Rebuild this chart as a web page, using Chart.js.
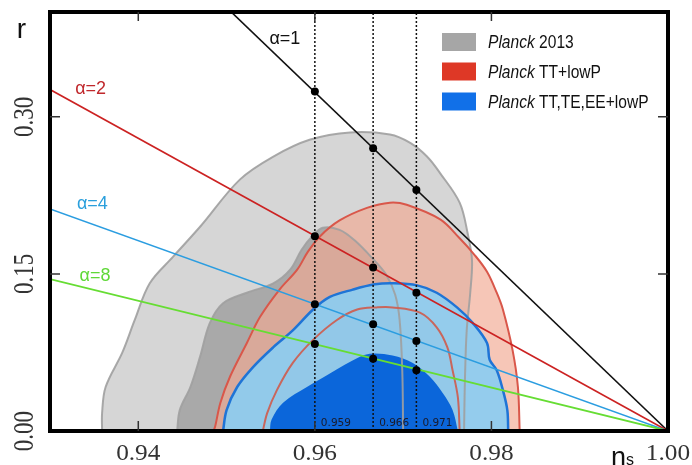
<!DOCTYPE html>
<html>
<head>
<meta charset="utf-8">
<script src="https://cdn.jsdelivr.net/npm/chart.js@4.4.1/dist/chart.umd.min.js"></script>
<style>
  html, body { margin: 0; padding: 0; background: #fff; }
  #wrap { width: 692px; height: 465px; }
</style>
</head>
<body>
<div id="wrap"><canvas id="chart" width="692" height="465"></canvas></div>
<script>
// axis ticks
const xTicks = [0.94, 0.96, 0.98, 1.00];
const yTicks = [0.00, 0.15, 0.30];

// Planck 2013 (grey) 95% / 68%
const gray95Ns = [0.9359, 0.9359, 0.9363, 0.9382, 0.9396, 0.9413, 0.9439, 0.9470, 0.9515, 0.9553, 0.9594, 0.9640, 0.9685, 0.9708, 0.9727, 0.9742, 0.9764, 0.9773, 0.9778, 0.9776, 0.9772, 0.9770, 0.9769];
const gray95R  = [0, 0.017, 0.042, 0.075, 0.106, 0.141, 0.166, 0.195, 0.240, 0.262, 0.278, 0.285, 0.283, 0.275, 0.262, 0.246, 0.218, 0.189, 0.163, 0.132, 0.096, 0.049, 0];
const gray68Ns = [0.9444, 0.9447, 0.9459, 0.9470, 0.9481, 0.9496, 0.9523, 0.9553, 0.9572, 0.9585, 0.9597, 0.9609, 0.9628, 0.9645, 0.9665, 0.9681, 0.9691, 0.9696, 0.9699, 0.9700];
const gray68R  = [0, 0.020, 0.042, 0.071, 0.103, 0.122, 0.132, 0.141, 0.154, 0.173, 0.186, 0.194, 0.192, 0.182, 0.165, 0.149, 0.130, 0.106, 0.058, 0];

// Planck TT+lowP (red)
const red95Ns = [0.9485, 0.9487, 0.9493, 0.9504, 0.9523, 0.9538, 0.9560, 0.9580, 0.9592, 0.9606, 0.9628, 0.9659, 0.9685, 0.9704, 0.9742, 0.9764, 0.9781, 0.9795, 0.9806, 0.9813, 0.9824, 0.9830, 0.9832];
const red95R  = [0, 0.004, 0.027, 0.052, 0.084, 0.109, 0.135, 0.154, 0.171, 0.186, 0.201, 0.213, 0.218, 0.216, 0.202, 0.184, 0.168, 0.152, 0.132, 0.116, 0.077, 0.042, 0];
const red68Ns = [0.9541, 0.9546, 0.9557, 0.9575, 0.9598, 0.9625, 0.9648, 0.9670, 0.9688, 0.9719, 0.9738, 0.9750, 0.9756, 0.9762, 0.9764];
const red68R  = [0, 0.017, 0.039, 0.065, 0.087, 0.106, 0.116, 0.118, 0.118, 0.113, 0.099, 0.080, 0.058, 0.032, 0];

// Planck TT,TE,EE+lowP (blue)
const blue95Ns = [0.9496, 0.9500, 0.9512, 0.9530, 0.9553, 0.9575, 0.9598, 0.9617, 0.9643, 0.9668, 0.9688, 0.9716, 0.9738, 0.9761, 0.9779, 0.9795, 0.9798, 0.9806, 0.9813, 0.9818, 0.9819];
const blue95R  = [0, 0.020, 0.042, 0.061, 0.080, 0.096, 0.116, 0.128, 0.135, 0.140, 0.141, 0.139, 0.132, 0.118, 0.103, 0.084, 0.068, 0.058, 0.039, 0.020, 0];
const blue68Ns = [0.9549, 0.9551, 0.9564, 0.9591, 0.9617, 0.9651, 0.9666, 0.9688, 0.9711, 0.9730, 0.9745, 0.9756, 0.9762];
const blue68R  = [0, 0.011, 0.027, 0.042, 0.055, 0.071, 0.074, 0.072, 0.065, 0.052, 0.036, 0.020, 0];

// alpha lines, from left edge to ns = 1
const alphaNs = [0.93, 1.00];
const alpha1R = [0.566, 0];
const alpha2R = [0.326, 0];
const alpha4R = [0.212, 0];
const alpha8R = [0.145, 0];

// marked ns lines (where the picture puts them) and their printed labels
const markNs = [0.9600, 0.9666, 0.9715];
const markLabels = ['0.959', '0.966', '0.971'];
const dots1 = [0.324, 0.270, 0.230];
const dots2 = [0.186, 0.156, 0.132];
const dots4 = [0.121, 0.102, 0.086];
const dots8 = [0.083, 0.069, 0.058];

const pts = (ns, r) => ns.map((v, i) => ({x: v, y: r[i]}));

function area(ns, r, color, order) {
  return {data: pts(ns, r), backgroundColor: color, borderWidth: 0, fill: 'shape',
    tension: 0.35, pointRadius: 0, order: order, clip: 0};
}
function outline(ns, r, color, w, order) {
  return {data: pts(ns, r), borderColor: color, borderWidth: w, fill: false,
    tension: 0.35, pointRadius: 0, order: order, clip: 0};
}
function straight(ns, r, color, w, order, dash) {
  return {data: pts(ns, r), borderColor: color, borderWidth: w, fill: false,
    tension: 0, pointRadius: 0, order: order, borderDash: dash || [], clip: 0};
}
function dots(r, order) {
  return {data: pts(markNs, r), showLine: false, pointRadius: 4,
    pointBackgroundColor: '#000', pointBorderWidth: 0, order: order};
}

const datasets = [
  area(gray95Ns, gray95R, '#d6d6d6', 100),
  area(gray68Ns, gray68R, '#a9a9a9', 99),
  area(red95Ns, red95R, 'rgba(242,168,145,0.66)', 98),
  area(red68Ns, red68R, 'rgba(225,120,100,0.30)', 97),
  area(blue95Ns, blue95R, 'rgba(135,206,245,0.88)', 96),
  area(blue68Ns, blue68R, '#0b66da', 95),
  outline(gray95Ns, gray95R, 'rgba(160,160,160,0.9)', 2, 90),
  outline(gray68Ns, gray68R, 'rgba(160,160,160,0.9)', 2, 89),
  outline(red95Ns, red95R, '#d9574a', 2, 88),
  outline(red68Ns, red68R, '#c9665c', 2, 87),
  outline(blue95Ns, blue95R, '#1f74d6', 2.5, 86),
  straight(alphaNs, alpha1R, '#111111', 1.6, 80),
  straight(alphaNs, alpha2R, '#cc2222', 1.6, 79),
  straight(alphaNs, alpha4R, '#2b9de0', 1.6, 78),
  straight(alphaNs, alpha8R, '#66dd33', 1.8, 77)
];
markNs.forEach((v, i) => datasets.push(straight([v, v], [0, 0.4], '#111', 1.5, 70 - i, [2, 2])));
[dots1, dots2, dots4, dots8].forEach((d, i) => datasets.push(dots(d, 60 - i)));

const alphaLabels = [
  {text: 'α=1', ns: 0.9566, r: 0.374, color: '#111111'},
  {text: 'α=2', ns: 0.9346, r: 0.3265, color: '#c0282c'},
  {text: 'α=4', ns: 0.9348, r: 0.2167, color: '#2a9fdc'},
  {text: 'α=8', ns: 0.9351, r: 0.148, color: '#5fd838'}
];
const legendItems = [
  {color: '#a6a6a6', rest: ' 2013'},
  {color: '#de3826', rest: ' TT+lowP'},
  {color: '#1170e8', rest: ' TT,TE,EE+lowP'}
];

const decor = {
  id: 'decor',
  afterDraw(chart) {
    const {ctx, chartArea: a, scales: {x, y}} = chart;
    ctx.save();

    // alpha labels
    ctx.font = '18px "Liberation Sans", Arial, sans-serif';
    ctx.textAlign = 'center';
    ctx.textBaseline = 'middle';
    alphaLabels.forEach(l => {
      ctx.fillStyle = l.color;
      ctx.fillText(l.text, x.getPixelForValue(l.ns), y.getPixelForValue(l.r));
    });

    // small ns labels next to the dotted lines
    ctx.font = '10.5px "DejaVu Sans", sans-serif';
    ctx.textAlign = 'left';
    ctx.textBaseline = 'alphabetic';
    ctx.fillStyle = '#1a1a2a';
    markNs.forEach((v, i) => ctx.fillText(markLabels[i], x.getPixelForValue(v) + 6, a.bottom - 5));

    // frame
    ctx.strokeStyle = '#000';
    ctx.lineWidth = 4;
    ctx.strokeRect(a.left, a.top, a.right - a.left, a.bottom - a.top);

    // inward ticks
    ctx.strokeStyle = '#333';
    ctx.lineWidth = 1.5;
    ctx.beginPath();
    xTicks.slice(0, -1).forEach(v => {
      const px = x.getPixelForValue(v);
      ctx.moveTo(px, a.bottom); ctx.lineTo(px, a.bottom - 10);
      ctx.moveTo(px, a.top); ctx.lineTo(px, a.top + 9);
    });
    yTicks.slice(1).forEach(v => {
      const py = y.getPixelForValue(v);
      ctx.moveTo(a.left, py); ctx.lineTo(a.left + 10, py);
      ctx.moveTo(a.right, py); ctx.lineTo(a.right - 10, py);
    });
    ctx.stroke();

    // tick labels
    ctx.fillStyle = '#333';
    ctx.font = '23px "Liberation Serif", "Times New Roman", serif';
    ctx.textAlign = 'center';
    ctx.textBaseline = 'alphabetic';
    xTicks.forEach(v => {
      ctx.save();
      ctx.translate(x.getPixelForValue(v), a.bottom + 29);
      ctx.scale(1.1, 1);
      ctx.fillText(v.toFixed(2), 0, 0);
      ctx.restore();
    });
    yTicks.forEach(v => {
      ctx.save();
      ctx.translate(33, y.getPixelForValue(v));
      ctx.scale(1.3, 1);
      ctx.rotate(-Math.PI / 2);
      ctx.fillText(v.toFixed(2), 0, 0);
      ctx.restore();
    });

    // axis titles
    ctx.fillStyle = '#111';
    ctx.font = '28px "Liberation Sans", Arial, sans-serif';
    ctx.fillText('r', 21.5, 38);
    ctx.textAlign = 'left';
    ctx.font = '27px "Liberation Sans", Arial, sans-serif';
    ctx.fillText('n', 611, 466);
    ctx.font = '16px "Liberation Sans", Arial, sans-serif';
    ctx.fillText('s', 626, 465);

    // legend
    const lx = 442, ly = [42, 71.5, 101.5];
    legendItems.forEach((it, i) => {
      ctx.fillStyle = it.color;
      ctx.fillRect(lx, ly[i] - 9, 34, 18);
      ctx.save();
      ctx.translate(488, ly[i] + 6);
      ctx.scale(0.89, 1);
      ctx.fillStyle = '#111';
      ctx.font = 'italic 17.5px "Liberation Sans", Arial, sans-serif';
      ctx.fillText('Planck', 0, 0);
      const w = ctx.measureText('Planck').width;
      ctx.font = '17.5px "Liberation Sans", Arial, sans-serif';
      ctx.fillText(it.rest, w, 0);
      ctx.restore();
    });

    ctx.restore();
  }
};

new Chart(document.getElementById('chart'), {
  type: 'line',
  data: {datasets: datasets},
  options: {
    responsive: false,
    devicePixelRatio: 1,
    animation: false,
    events: [],
    layout: {padding: {left: 50, top: 12, right: 24, bottom: 34}},
    plugins: {legend: {display: false}, tooltip: {enabled: false}},
    scales: {
      x: {type: 'linear', min: 0.93, max: 1.00, display: false},
      y: {type: 'linear', min: 0, max: 0.40, display: false}
    }
  },
  plugins: [decor]
});
</script>
</body>
</html>
